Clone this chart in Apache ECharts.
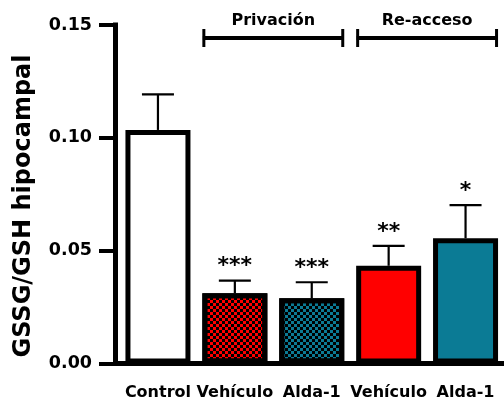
<!DOCTYPE html>
<html>
<head>
<meta charset="utf-8">
<script src="https://cdn.jsdelivr.net/npm/echarts@6/dist/echarts.min.js"></script>
<style>
  html, body { margin: 0; padding: 0; background: #fff; }
  #chart { width: 504px; height: 403px; }
</style>
</head>
<body>
<div id="chart"></div>
<script>
// Hippocampal GSSG/GSH ratio per group (mean + SEM)
const categories = ['Control', 'Vehículo', 'Alda-1', 'Vehículo', 'Alda-1'];
const means = [0.1035, 0.0311, 0.0289, 0.0433, 0.0555];
const sems = [0.0158, 0.0056, 0.0071, 0.0088, 0.0147];
const stars = ['', '***', '***', '**', '*'];
const yTicks = [0, 0.05, 0.10, 0.15];
// Group brackets: [first index, last index, label]
const groups = [[1, 2, 'Privación'], [3, 4, 'Re-acceso']];

const FONT = 'DejaVu Sans';
const RED = '#ff0000';
const TEAL = '#0b7b95';

const checker = {
  symbol: 'rect',
  symbolSize: 1,
  color: '#000',
  dashArrayX: [[2.3, 2.3], [0, 2.3, 2.3, 0]],
  dashArrayY: [2.3, 0],
  rotation: 0
};

const fills = [
  { color: '#ffffff' },
  { color: RED, decal: checker },
  { color: TEAL, decal: checker },
  { color: RED },
  { color: TEAL }
];

const barData = means.map((v, i) => ({
  value: v,
  itemStyle: Object.assign({ borderColor: '#000', borderWidth: 5 }, fills[i])
}));

const errData = means.map((v, i) => [i, v, v + sems[i], stars[i]]);

const chart = echarts.init(document.getElementById('chart'), null, { renderer: 'canvas' });

chart.setOption({
  backgroundColor: '#fff',
  animation: false,
  grid: { left: 119.5, top: 25, width: 388, bottom: 39.5, containLabel: false },
  xAxis: {
    type: 'category',
    data: categories,
    axisLine: { lineStyle: { color: '#000', width: 5, cap: 'square' } },
    axisTick: { alignWithLabel: true, length: 14, lineStyle: { color: '#000', width: 4 } },
    axisLabel: {
      interval: 0, color: '#000', fontFamily: FONT, fontWeight: 'bold', fontSize: 16, margin: 21
    }
  },
  yAxis: {
    type: 'value',
    min: 0, max: 0.15, interval: 0.05,
    offset: 4.5,
    splitLine: { show: false },
    axisLine: { show: true, lineStyle: { color: '#000', width: 5, cap: 'square' } },
    axisTick: { show: true, length: 16, lineStyle: { color: '#000', width: 4 } },
    axisLabel: {
      color: '#000', fontFamily: FONT, fontWeight: 'bold', fontSize: 17.5, margin: 23,
      formatter: v => v.toFixed(2)
    },
    data: yTicks
  },
  graphic: [{
    type: 'text',
    x: 24, y: 206,
    rotation: Math.PI / 2,
    style: {
      text: 'GSSG/GSH hipocampal',
      font: 'bold 24px "DejaVu Sans"',
      fill: '#000',
      align: 'center',
      verticalAlign: 'middle'
    }
  }],
  series: [
    {
      type: 'bar',
      data: barData,
      barWidth: 65,
      z: 2
    },
    {
      // error bars with significance marks
      type: 'custom',
      data: errData,
      encode: { x: 0, y: [1, 2] },
      z: 3,
      renderItem: (params, api) => {
        const base = api.coord([api.value(0), api.value(1)]);
        const top = api.coord([api.value(0), api.value(2)]);
        const half = 16;
        const lw = 2.2;
        return {
          type: 'group',
          children: [
            { type: 'line', shape: { x1: base[0], y1: base[1], x2: top[0], y2: top[1] },
              style: { stroke: '#000', lineWidth: lw } },
            { type: 'line', shape: { x1: top[0] - half, y1: top[1], x2: top[0] + half, y2: top[1] },
              style: { stroke: '#000', lineWidth: lw } },
            { type: 'text', x: top[0], y: top[1] - 3,
              style: { text: api.value(3), font: 'bold 22px "DejaVu Sans"', fill: '#000',
                       align: 'center', verticalAlign: 'bottom' } }
          ]
        };
      }
    },
    {
      // group brackets above the bars
      type: 'custom',
      data: groups,
      encode: { x: [0, 1] },
      clip: false,
      z: 3,
      renderItem: (params, api) => {
        const halfBar = 32;
        const a = api.coord([api.value(0), 0.15]);
        const b = api.coord([api.value(1), 0.15]);
        const x1 = a[0] - halfBar, x2 = b[0] + halfBar;
        const y = a[1] + 13;
        return {
          type: 'group',
          children: [
            { type: 'line', shape: { x1: x1, y1: y, x2: x2, y2: y },
              style: { stroke: '#000', lineWidth: 4 } },
            { type: 'line', shape: { x1: x1 + 1, y1: y - 9, x2: x1 + 1, y2: y + 9 },
              style: { stroke: '#000', lineWidth: 3 } },
            { type: 'line', shape: { x1: x2 - 1, y1: y - 9, x2: x2 - 1, y2: y + 9 },
              style: { stroke: '#000', lineWidth: 3 } },
            { type: 'text', x: (x1 + x2) / 2, y: y - 17,
              style: { text: groups[params.dataIndex][2], font: 'bold 16px "DejaVu Sans"', fill: '#000',
                       align: 'center', verticalAlign: 'middle' } }
          ]
        };
      }
    }
  ]
});
</script>
</body>
</html>
